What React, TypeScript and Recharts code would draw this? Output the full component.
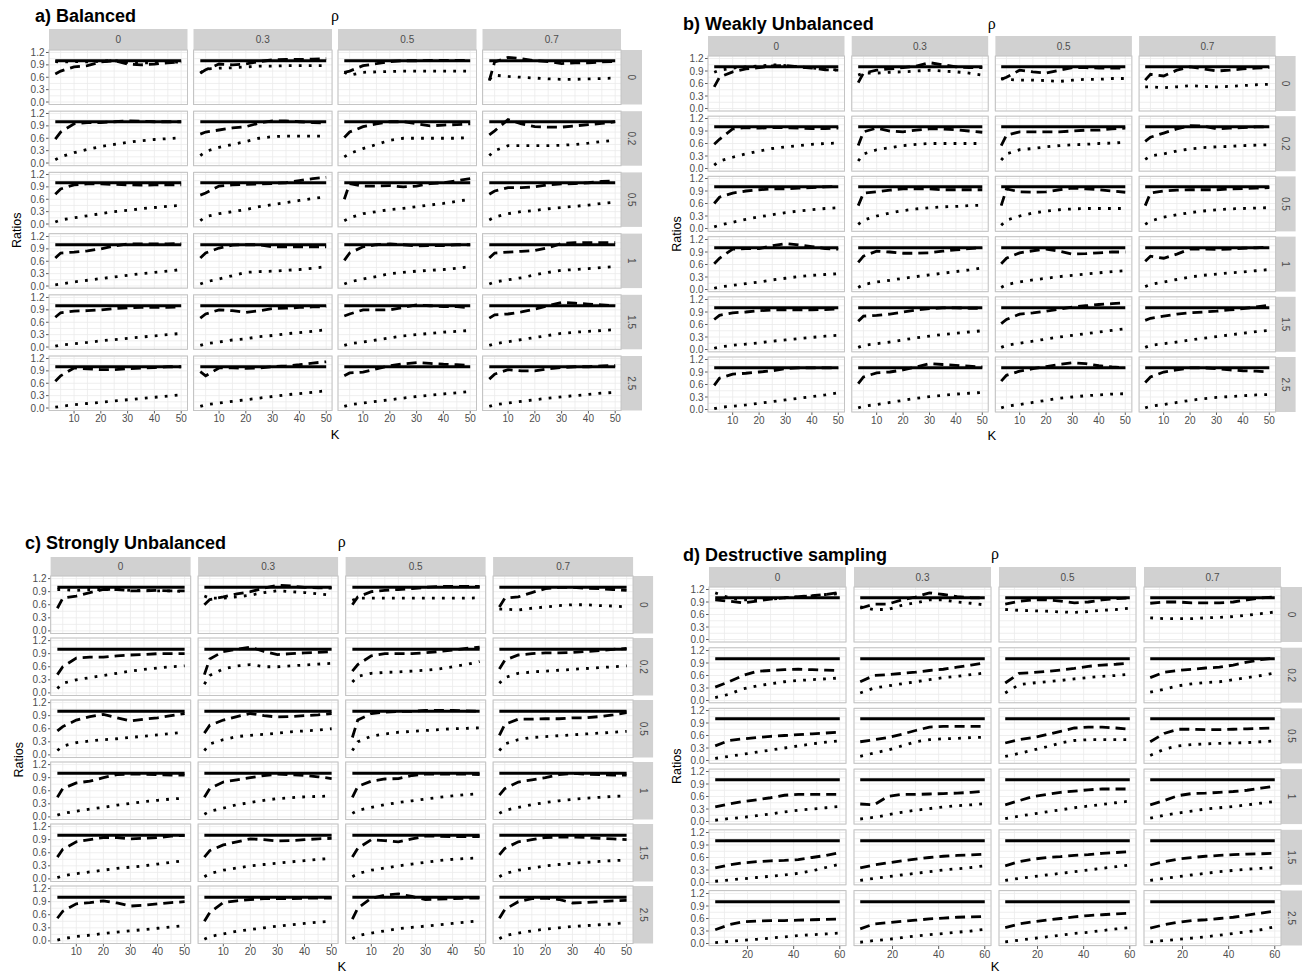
import React from 'react';
import { LineChart, Line, XAxis, YAxis, CartesianGrid } from 'recharts';

// ---- axes / facet labels ----
const kValues = [3, 5, 10, 15, 20, 25, 30, 35, 40, 45, 50];
const kDestructive = [6, 12, 18, 24, 30, 36, 42, 48, 54, 60];
const rhoLabels = ['0', '0.3', '0.5', '0.7'];
const sigmaLabels = ['0', '0.2', '0.5', '1', '1.5', '2.5'];
const yTicks = [0, 0.15, 0.3, 0.45, 0.6, 0.75, 0.9, 1.05, 1.2];
const yMajor = [0, 0.3, 0.6, 0.9, 1.2];
const kTicks = [5, 10, 15, 20, 25, 30, 35, 40, 45, 50];
const kMajor = [10, 20, 30, 40, 50];
const kTicksD = [10, 20, 30, 40, 50, 60];
const kMajorD = [20, 40, 60];
const REFERENCE_RATIO = 1;

// ---- series: [sigma row][rho column][K] ----
const balancedDashed = [
  [[0.68, 0.75, 0.85, 0.88, 0.97, 1.0, 0.92, 0.9, 0.92, 0.95, 0.97], [0.7, 0.78, 0.92, 0.9, 0.92, 0.98, 1.02, 1.03, 1.03, 1.04, 1.05], [0.72, 0.75, 0.88, 0.93, 0.98, 1.0, 1.0, 1.01, 1.01, 1.01, 1.01], [0.52, 0.97, 1.08, 1.05, 1.0, 0.98, 0.93, 0.95, 0.95, 0.97, 0.98]],
  [[0.58, 0.75, 0.95, 0.98, 0.98, 1.0, 1.02, 1.01, 1.0, 1.0, 1.0], [0.7, 0.75, 0.8, 0.85, 0.88, 0.97, 1.02, 1.02, 1.0, 0.98, 0.97], [0.62, 0.75, 0.88, 0.95, 1.0, 1.0, 0.95, 0.9, 0.92, 0.93, 0.95], [0.68, 0.78, 1.05, 0.95, 0.88, 0.87, 0.87, 0.9, 0.93, 0.96, 1.0]],
  [[0.72, 0.85, 0.95, 0.97, 0.97, 0.96, 0.95, 0.94, 0.95, 0.95, 0.95], [0.7, 0.75, 0.92, 0.95, 0.96, 0.97, 0.98, 1.0, 1.05, 1.1, 1.13], [0.6, 0.98, 0.92, 0.92, 0.93, 0.9, 0.92, 0.98, 1.0, 1.05, 1.1], [0.72, 0.8, 0.88, 0.88, 0.9, 0.95, 0.97, 0.98, 1.0, 1.03, 1.04]],
  [[0.68, 0.8, 0.82, 0.85, 0.9, 0.97, 1.02, 1.02, 1.02, 1.02, 1.03], [0.68, 0.8, 0.92, 0.99, 1.0, 1.0, 0.95, 0.95, 0.95, 0.95, 0.95], [0.62, 0.8, 0.95, 1.0, 1.02, 1.0, 0.97, 0.98, 0.98, 1.0, 1.0], [0.68, 0.8, 0.82, 0.84, 0.86, 0.93, 1.03, 1.05, 1.05, 1.05, 1.05]],
  [[0.72, 0.83, 0.87, 0.88, 0.9, 0.93, 0.95, 0.96, 0.96, 0.96, 0.97], [0.7, 0.8, 0.9, 0.88, 0.84, 0.88, 0.93, 0.94, 0.96, 0.97, 0.98], [0.75, 0.8, 0.9, 0.9, 0.9, 0.96, 1.02, 1.0, 0.98, 0.98, 0.95], [0.7, 0.78, 0.8, 0.85, 0.92, 1.0, 1.08, 1.06, 1.04, 1.02, 1.0]],
  [[0.65, 0.78, 0.97, 0.95, 0.93, 0.93, 0.95, 0.97, 0.98, 1.0, 1.0], [0.88, 0.78, 0.97, 0.97, 0.96, 0.97, 1.0, 1.02, 1.05, 1.09, 1.12], [0.78, 0.85, 0.87, 0.95, 1.02, 1.07, 1.1, 1.08, 1.06, 1.05, 1.03], [0.7, 0.82, 0.93, 0.9, 0.9, 0.95, 0.98, 1.0, 1.0, 1.02, 1.03]],
];
const balancedDotted = [
  [[0.98, 0.97, 0.98, 0.97, 0.99, 1.0, 0.96, 0.95, 0.95, 0.96, 0.97], [0.7, 0.8, 0.82, 0.83, 0.85, 0.87, 0.87, 0.88, 0.88, 0.88, 0.88], [0.72, 0.65, 0.72, 0.73, 0.74, 0.75, 0.75, 0.75, 0.75, 0.75, 0.75], [0.55, 0.65, 0.62, 0.6, 0.58, 0.56, 0.55, 0.55, 0.56, 0.57, 0.58]],
  [[0.08, 0.15, 0.25, 0.33, 0.4, 0.45, 0.5, 0.54, 0.57, 0.59, 0.61], [0.18, 0.28, 0.38, 0.45, 0.52, 0.6, 0.64, 0.65, 0.65, 0.65, 0.65], [0.15, 0.23, 0.35, 0.45, 0.55, 0.6, 0.6, 0.6, 0.6, 0.6, 0.62], [0.18, 0.3, 0.42, 0.42, 0.42, 0.42, 0.43, 0.45, 0.48, 0.52, 0.55]],
  [[0.05, 0.1, 0.15, 0.2, 0.25, 0.3, 0.33, 0.37, 0.4, 0.43, 0.45], [0.08, 0.18, 0.25, 0.3, 0.35, 0.42, 0.47, 0.52, 0.57, 0.62, 0.66], [0.08, 0.15, 0.25, 0.3, 0.35, 0.38, 0.42, 0.46, 0.5, 0.55, 0.6], [0.1, 0.17, 0.25, 0.3, 0.33, 0.37, 0.4, 0.43, 0.46, 0.5, 0.53]],
  [[0.03, 0.05, 0.1, 0.14, 0.18, 0.22, 0.26, 0.3, 0.33, 0.36, 0.4], [0.05, 0.1, 0.17, 0.25, 0.33, 0.35, 0.36, 0.38, 0.4, 0.43, 0.47], [0.05, 0.1, 0.17, 0.23, 0.3, 0.33, 0.36, 0.38, 0.4, 0.43, 0.47], [0.05, 0.1, 0.15, 0.2, 0.27, 0.33, 0.38, 0.4, 0.42, 0.45, 0.47]],
  [[0.02, 0.05, 0.08, 0.11, 0.15, 0.18, 0.21, 0.24, 0.27, 0.3, 0.33], [0.04, 0.08, 0.12, 0.17, 0.2, 0.25, 0.28, 0.32, 0.35, 0.38, 0.42], [0.04, 0.08, 0.12, 0.17, 0.22, 0.27, 0.3, 0.33, 0.36, 0.38, 0.4], [0.04, 0.08, 0.13, 0.18, 0.23, 0.28, 0.33, 0.36, 0.38, 0.4, 0.42]],
  [[0.02, 0.04, 0.08, 0.11, 0.14, 0.17, 0.2, 0.23, 0.26, 0.29, 0.32], [0.04, 0.08, 0.12, 0.16, 0.2, 0.24, 0.28, 0.32, 0.35, 0.38, 0.42], [0.04, 0.08, 0.12, 0.16, 0.2, 0.24, 0.28, 0.31, 0.34, 0.37, 0.4], [0.04, 0.08, 0.12, 0.16, 0.2, 0.24, 0.27, 0.3, 0.33, 0.36, 0.38]],
];

const weakDashed = [
  [[0.52, 0.75, 0.88, 0.95, 0.98, 1.02, 1.03, 1.0, 0.97, 0.93, 0.92], [0.62, 0.85, 0.92, 0.95, 0.98, 1.02, 1.1, 1.05, 1.0, 0.98, 0.98], [0.7, 0.75, 0.92, 0.88, 0.85, 0.92, 0.98, 0.98, 0.97, 0.97, 0.97], [0.68, 0.82, 0.78, 0.92, 1.0, 0.95, 0.9, 0.92, 0.95, 0.97, 0.98]],
  [[0.58, 0.7, 0.95, 0.98, 0.97, 0.98, 0.98, 0.97, 0.96, 0.96, 0.97], [0.55, 0.88, 0.97, 0.9, 0.88, 0.92, 0.95, 0.95, 0.93, 0.9, 0.87], [0.55, 0.8, 0.88, 0.88, 0.88, 0.88, 0.9, 0.92, 0.92, 0.95, 0.97], [0.65, 0.75, 0.85, 0.95, 1.03, 1.02, 0.95, 0.97, 0.98, 1.0, 1.0]],
  [[0.6, 0.75, 0.85, 0.9, 0.93, 0.95, 0.95, 0.97, 0.98, 1.0, 1.01], [0.55, 0.85, 0.88, 0.92, 0.95, 0.95, 0.95, 0.93, 0.93, 0.93, 0.93], [0.55, 0.95, 0.88, 0.87, 0.88, 0.93, 0.97, 0.95, 0.93, 0.9, 0.87], [0.55, 0.85, 0.9, 0.92, 0.93, 0.93, 0.93, 0.95, 0.96, 0.97, 0.98]],
  [[0.62, 0.75, 0.97, 0.98, 0.98, 1.05, 1.1, 1.07, 1.03, 0.98, 0.97], [0.65, 0.8, 0.92, 0.9, 0.87, 0.87, 0.88, 0.92, 0.95, 0.98, 1.0], [0.62, 0.75, 0.88, 0.93, 0.97, 0.92, 0.85, 0.86, 0.88, 0.9, 0.9], [0.68, 0.8, 0.75, 0.85, 0.97, 0.97, 0.96, 0.97, 0.99, 1.0, 1.02]],
  [[0.72, 0.82, 0.88, 0.9, 0.93, 0.95, 0.95, 0.95, 0.95, 0.96, 0.97], [0.68, 0.8, 0.82, 0.85, 0.9, 0.95, 0.98, 1.0, 1.0, 0.99, 0.99], [0.62, 0.72, 0.85, 0.88, 0.92, 0.97, 1.02, 1.05, 1.08, 1.1, 1.12], [0.7, 0.75, 0.8, 0.85, 0.88, 0.9, 0.92, 0.95, 0.98, 1.02, 1.06]],
  [[0.58, 0.75, 0.85, 0.87, 0.9, 0.93, 0.98, 1.0, 1.0, 1.0, 1.0], [0.62, 0.78, 0.88, 0.9, 0.95, 1.02, 1.1, 1.08, 1.06, 1.04, 1.02], [0.68, 0.82, 0.92, 0.98, 1.03, 1.08, 1.12, 1.1, 1.05, 1.02, 1.0], [0.65, 0.78, 0.9, 0.95, 1.0, 1.0, 0.98, 0.95, 0.93, 0.92, 0.9]],
];
const weakDotted = [
  [[0.87, 0.92, 0.97, 1.0, 1.02, 1.05, 1.03, 1.0, 0.97, 0.95, 0.92], [0.8, 0.85, 0.85, 0.87, 0.88, 0.9, 0.92, 0.9, 0.88, 0.85, 0.8], [0.72, 0.7, 0.68, 0.68, 0.67, 0.65, 0.68, 0.7, 0.7, 0.72, 0.72], [0.52, 0.52, 0.5, 0.52, 0.55, 0.53, 0.52, 0.53, 0.55, 0.57, 0.58]],
  [[0.08, 0.18, 0.27, 0.35, 0.42, 0.48, 0.52, 0.55, 0.58, 0.6, 0.61], [0.18, 0.35, 0.45, 0.5, 0.55, 0.58, 0.6, 0.6, 0.6, 0.6, 0.6], [0.2, 0.35, 0.45, 0.48, 0.52, 0.55, 0.57, 0.58, 0.6, 0.61, 0.63], [0.22, 0.3, 0.35, 0.42, 0.47, 0.5, 0.52, 0.53, 0.55, 0.56, 0.57]],
  [[0.04, 0.08, 0.15, 0.22, 0.28, 0.33, 0.38, 0.42, 0.45, 0.48, 0.5], [0.1, 0.2, 0.3, 0.37, 0.43, 0.47, 0.5, 0.52, 0.53, 0.55, 0.56], [0.08, 0.2, 0.3, 0.37, 0.42, 0.45, 0.47, 0.48, 0.48, 0.48, 0.48], [0.1, 0.18, 0.27, 0.33, 0.38, 0.42, 0.45, 0.47, 0.48, 0.49, 0.5]],
  [[0.03, 0.06, 0.1, 0.14, 0.18, 0.23, 0.27, 0.31, 0.34, 0.36, 0.38], [0.05, 0.12, 0.18, 0.22, 0.27, 0.31, 0.35, 0.39, 0.43, 0.47, 0.52], [0.05, 0.12, 0.18, 0.23, 0.27, 0.31, 0.34, 0.37, 0.4, 0.43, 0.45], [0.07, 0.12, 0.18, 0.24, 0.3, 0.34, 0.37, 0.4, 0.42, 0.45, 0.48]],
  [[0.03, 0.06, 0.1, 0.13, 0.16, 0.2, 0.23, 0.26, 0.29, 0.32, 0.34], [0.05, 0.1, 0.14, 0.18, 0.23, 0.28, 0.32, 0.36, 0.39, 0.42, 0.45], [0.05, 0.1, 0.15, 0.2, 0.25, 0.3, 0.34, 0.38, 0.42, 0.46, 0.5], [0.05, 0.1, 0.14, 0.18, 0.23, 0.27, 0.31, 0.35, 0.39, 0.43, 0.46]],
  [[0.02, 0.05, 0.08, 0.11, 0.15, 0.19, 0.23, 0.27, 0.31, 0.35, 0.4], [0.04, 0.08, 0.12, 0.17, 0.22, 0.27, 0.31, 0.34, 0.37, 0.39, 0.41], [0.04, 0.08, 0.12, 0.17, 0.22, 0.27, 0.3, 0.33, 0.35, 0.37, 0.38], [0.04, 0.08, 0.12, 0.17, 0.22, 0.26, 0.29, 0.31, 0.33, 0.35, 0.36]],
];

const strongDashed = [
  [[0.52, 0.75, 0.8, 0.88, 0.95, 0.95, 0.92, 0.92, 0.93, 0.92, 0.92], [0.6, 0.72, 0.78, 0.85, 0.9, 0.98, 1.05, 1.03, 1.0, 0.99, 0.98], [0.6, 0.78, 0.9, 0.93, 0.95, 0.97, 1.0, 1.02, 1.02, 1.02, 1.02], [0.55, 0.75, 0.78, 0.88, 0.97, 1.0, 1.0, 0.98, 0.97, 0.95, 0.93]],
  [[0.42, 0.6, 0.8, 0.82, 0.82, 0.85, 0.87, 0.88, 0.9, 0.9, 0.9], [0.42, 0.78, 0.95, 1.0, 1.05, 0.95, 0.88, 0.9, 0.92, 0.93, 0.95], [0.5, 0.65, 0.85, 0.9, 0.9, 0.9, 0.92, 0.95, 0.98, 1.02, 1.05], [0.55, 0.75, 0.87, 0.9, 0.92, 0.92, 0.93, 0.95, 0.97, 1.0, 1.02]],
  [[0.55, 0.65, 0.8, 0.88, 0.93, 0.85, 0.78, 0.82, 0.85, 0.9, 0.95], [0.5, 0.68, 0.8, 0.88, 0.95, 0.9, 0.87, 0.88, 0.9, 0.92, 0.95], [0.4, 0.8, 0.95, 0.98, 1.0, 1.0, 1.02, 1.02, 1.02, 1.01, 1.0], [0.45, 0.7, 0.82, 0.82, 0.83, 0.83, 0.85, 0.85, 0.88, 0.92, 0.97]],
  [[0.45, 0.65, 0.78, 0.82, 0.9, 0.97, 0.98, 0.98, 0.97, 0.96, 0.96], [0.45, 0.65, 0.8, 0.85, 0.9, 0.95, 0.98, 0.97, 0.95, 0.92, 0.88], [0.45, 0.7, 0.82, 0.87, 0.88, 0.95, 0.98, 0.98, 0.98, 0.98, 0.97], [0.5, 0.65, 0.8, 0.85, 0.9, 0.97, 1.0, 0.98, 0.97, 0.96, 0.96]],
  [[0.5, 0.68, 0.85, 0.9, 0.95, 0.95, 0.92, 0.93, 0.95, 0.98, 1.0], [0.5, 0.65, 0.78, 0.85, 0.92, 0.9, 0.87, 0.88, 0.9, 0.92, 0.93], [0.5, 0.7, 0.9, 0.88, 0.85, 0.92, 0.98, 0.98, 0.97, 0.97, 0.97], [0.55, 0.7, 0.85, 0.9, 0.95, 0.96, 0.96, 0.95, 0.93, 0.92, 0.9]],
  [[0.52, 0.68, 0.85, 0.88, 0.92, 0.87, 0.8, 0.82, 0.85, 0.88, 0.9], [0.45, 0.65, 0.88, 0.92, 0.95, 0.97, 0.97, 0.97, 0.98, 0.98, 0.98], [0.5, 0.75, 0.98, 1.05, 1.08, 1.02, 0.95, 0.96, 0.97, 0.98, 0.98], [0.52, 0.72, 0.9, 0.97, 0.98, 0.95, 0.87, 0.88, 0.9, 0.92, 0.93]],
];
const strongDotted = [
  [[0.95, 0.95, 0.93, 0.95, 0.95, 0.96, 0.93, 0.93, 0.92, 0.92, 0.9], [0.8, 0.75, 0.75, 0.78, 0.82, 0.88, 0.92, 0.9, 0.88, 0.85, 0.82], [0.7, 0.75, 0.75, 0.75, 0.75, 0.75, 0.75, 0.75, 0.75, 0.75, 0.76], [0.5, 0.5, 0.48, 0.52, 0.55, 0.58, 0.6, 0.6, 0.58, 0.57, 0.55]],
  [[0.1, 0.22, 0.3, 0.35, 0.4, 0.45, 0.5, 0.54, 0.57, 0.6, 0.62], [0.2, 0.4, 0.55, 0.62, 0.65, 0.6, 0.6, 0.62, 0.64, 0.66, 0.68], [0.25, 0.38, 0.45, 0.47, 0.48, 0.5, 0.52, 0.55, 0.6, 0.65, 0.72], [0.22, 0.35, 0.45, 0.48, 0.5, 0.52, 0.54, 0.56, 0.58, 0.6, 0.62]],
  [[0.1, 0.2, 0.28, 0.32, 0.35, 0.37, 0.4, 0.43, 0.46, 0.49, 0.52], [0.1, 0.25, 0.35, 0.42, 0.45, 0.47, 0.5, 0.53, 0.55, 0.57, 0.6], [0.1, 0.3, 0.43, 0.48, 0.52, 0.54, 0.56, 0.58, 0.6, 0.61, 0.62], [0.1, 0.25, 0.35, 0.4, 0.42, 0.44, 0.46, 0.48, 0.5, 0.52, 0.54]],
  [[0.04, 0.08, 0.13, 0.18, 0.22, 0.27, 0.31, 0.35, 0.38, 0.41, 0.43], [0.06, 0.13, 0.2, 0.28, 0.33, 0.38, 0.42, 0.44, 0.46, 0.47, 0.48], [0.08, 0.15, 0.22, 0.28, 0.33, 0.37, 0.41, 0.45, 0.48, 0.51, 0.53], [0.08, 0.15, 0.22, 0.28, 0.33, 0.37, 0.4, 0.43, 0.45, 0.47, 0.48]],
  [[0.03, 0.07, 0.12, 0.16, 0.2, 0.24, 0.27, 0.3, 0.34, 0.38, 0.42], [0.05, 0.12, 0.2, 0.25, 0.3, 0.33, 0.36, 0.39, 0.42, 0.45, 0.47], [0.05, 0.12, 0.2, 0.25, 0.3, 0.34, 0.38, 0.42, 0.45, 0.47, 0.48], [0.05, 0.12, 0.2, 0.25, 0.3, 0.33, 0.36, 0.38, 0.4, 0.42, 0.43]],
  [[0.02, 0.05, 0.1, 0.13, 0.17, 0.2, 0.23, 0.26, 0.29, 0.32, 0.35], [0.04, 0.1, 0.16, 0.22, 0.26, 0.3, 0.34, 0.37, 0.4, 0.43, 0.45], [0.05, 0.12, 0.18, 0.23, 0.28, 0.31, 0.34, 0.37, 0.4, 0.43, 0.46], [0.05, 0.12, 0.18, 0.23, 0.27, 0.3, 0.33, 0.35, 0.37, 0.39, 0.42]],
];

const destructiveDashed = [
  [[0.95, 0.92, 0.88, 0.92, 0.97, 1.0, 1.03, 1.05, 1.08, 1.13], [0.75, 0.85, 0.85, 0.95, 1.02, 1.12, 1.08, 1.03, 1.0, 1.0], [0.85, 0.92, 0.95, 0.95, 0.92, 0.88, 0.9, 0.95, 0.98, 1.0], [0.87, 0.9, 0.9, 0.88, 0.88, 0.88, 0.9, 0.95, 1.0, 1.02]],
  [[0.32, 0.45, 0.6, 0.7, 0.72, 0.74, 0.75, 0.74, 0.73, 0.72], [0.45, 0.6, 0.62, 0.65, 0.68, 0.72, 0.75, 0.8, 0.85, 0.9], [0.42, 0.65, 0.67, 0.7, 0.73, 0.77, 0.82, 0.85, 0.87, 0.9], [0.55, 0.68, 0.72, 0.75, 0.78, 0.8, 0.85, 0.92, 0.98, 1.02]],
  [[0.35, 0.48, 0.52, 0.55, 0.58, 0.6, 0.62, 0.64, 0.66, 0.68], [0.45, 0.5, 0.55, 0.63, 0.72, 0.8, 0.82, 0.82, 0.82, 0.82], [0.42, 0.5, 0.55, 0.62, 0.7, 0.78, 0.8, 0.8, 0.78, 0.75], [0.45, 0.65, 0.75, 0.75, 0.74, 0.74, 0.75, 0.76, 0.77, 0.78]],
  [[0.35, 0.42, 0.48, 0.52, 0.57, 0.63, 0.65, 0.65, 0.65, 0.65], [0.42, 0.4, 0.6, 0.65, 0.65, 0.66, 0.67, 0.68, 0.7, 0.73], [0.4, 0.5, 0.6, 0.65, 0.7, 0.73, 0.76, 0.78, 0.78, 0.78], [0.4, 0.5, 0.62, 0.67, 0.68, 0.7, 0.72, 0.75, 0.8, 0.85]],
  [[0.35, 0.42, 0.47, 0.5, 0.52, 0.53, 0.55, 0.6, 0.65, 0.72], [0.35, 0.42, 0.47, 0.52, 0.56, 0.6, 0.63, 0.65, 0.66, 0.68], [0.4, 0.5, 0.56, 0.6, 0.62, 0.65, 0.67, 0.7, 0.72, 0.74], [0.42, 0.5, 0.56, 0.6, 0.63, 0.65, 0.67, 0.68, 0.69, 0.7]],
  [[0.33, 0.45, 0.52, 0.54, 0.55, 0.55, 0.56, 0.57, 0.58, 0.59], [0.35, 0.47, 0.5, 0.53, 0.56, 0.59, 0.61, 0.63, 0.64, 0.65], [0.38, 0.47, 0.52, 0.56, 0.6, 0.64, 0.67, 0.69, 0.71, 0.73], [0.37, 0.45, 0.51, 0.55, 0.57, 0.6, 0.63, 0.68, 0.73, 0.78]],
];
const destructiveDotted = [
  [[1.12, 1.0, 0.95, 0.95, 0.97, 1.0, 1.02, 1.05, 1.08, 1.1], [0.78, 0.72, 0.72, 0.82, 0.88, 0.95, 0.95, 0.9, 0.87, 0.83], [0.72, 0.7, 0.69, 0.68, 0.66, 0.65, 0.67, 0.7, 0.72, 0.75], [0.52, 0.5, 0.5, 0.5, 0.52, 0.53, 0.55, 0.58, 0.62, 0.66]],
  [[0.07, 0.15, 0.28, 0.35, 0.4, 0.45, 0.48, 0.5, 0.52, 0.54], [0.18, 0.3, 0.35, 0.4, 0.45, 0.5, 0.55, 0.58, 0.62, 0.66], [0.18, 0.38, 0.42, 0.45, 0.48, 0.52, 0.55, 0.58, 0.6, 0.63], [0.2, 0.27, 0.35, 0.4, 0.43, 0.45, 0.5, 0.55, 0.6, 0.66]],
  [[0.05, 0.1, 0.15, 0.2, 0.25, 0.3, 0.35, 0.4, 0.44, 0.47], [0.1, 0.18, 0.25, 0.35, 0.45, 0.5, 0.52, 0.53, 0.55, 0.56], [0.1, 0.17, 0.25, 0.33, 0.42, 0.48, 0.5, 0.5, 0.5, 0.5], [0.12, 0.27, 0.35, 0.38, 0.4, 0.41, 0.42, 0.43, 0.45, 0.47]],
  [[0.03, 0.07, 0.1, 0.14, 0.18, 0.23, 0.27, 0.3, 0.33, 0.36], [0.06, 0.1, 0.16, 0.22, 0.27, 0.31, 0.35, 0.38, 0.4, 0.43], [0.07, 0.13, 0.18, 0.23, 0.28, 0.33, 0.37, 0.41, 0.45, 0.49], [0.08, 0.15, 0.2, 0.25, 0.3, 0.33, 0.36, 0.4, 0.44, 0.48]],
  [[0.03, 0.06, 0.09, 0.12, 0.15, 0.18, 0.22, 0.28, 0.36, 0.44], [0.05, 0.1, 0.14, 0.18, 0.22, 0.26, 0.3, 0.33, 0.36, 0.4], [0.05, 0.1, 0.14, 0.18, 0.22, 0.26, 0.3, 0.34, 0.38, 0.42], [0.05, 0.1, 0.14, 0.18, 0.22, 0.26, 0.29, 0.32, 0.34, 0.36]],
  [[0.02, 0.05, 0.08, 0.1, 0.13, 0.16, 0.19, 0.21, 0.23, 0.25], [0.03, 0.07, 0.1, 0.14, 0.18, 0.21, 0.24, 0.27, 0.3, 0.34], [0.04, 0.08, 0.12, 0.16, 0.2, 0.24, 0.27, 0.31, 0.35, 0.38], [0.04, 0.07, 0.1, 0.13, 0.16, 0.2, 0.24, 0.28, 0.33, 0.4]],
];

// ---- layout ----
const FONT = '"Liberation Sans", Arial, Helvetica, sans-serif';
const TICK_COLOR = '#4d4d4d';
const Y_AXIS_W = 30;
const X_AXIS_H = 22;
const Y_DOMAIN: [number, number] = [-0.06, 1.26];

interface PanelSpec {
  title: string;
  titleX: number;
  titleY: number;
  rhoY: number;
  kLabelY: number;
  colLeft: number;
  colStep: number;
  colW: number;
  rowTop: number;
  rowStep: number;
  rowH: number;
  stripH: number;
  stripRW: number;
  ratiosX: number;
  k: number[];
  xDomain: [number, number];
  xTicks: number[];
  xMajor: number[];
  dashed: number[][][];
  dotted: number[][][];
}

const panels: PanelSpec[] = [
  {
    title: 'a) Balanced', titleX: 35, titleY: 22, rhoY: 15, kLabelY: 434,
    colLeft: 49, colStep: 144.5, colW: 138.5, rowTop: 50, rowStep: 61.2, rowH: 54.5,
    stripH: 21, stripRW: 21, ratiosX: 17,
    k: kValues, xDomain: [0.65, 52.35], xTicks: kTicks, xMajor: kMajor,
    dashed: balancedDashed, dotted: balancedDotted,
  },
  {
    title: 'b) Weakly Unbalanced', titleX: 683, titleY: 30, rhoY: 23, kLabelY: 435,
    colLeft: 708, colStep: 143.7, colW: 136.5, rowTop: 56, rowStep: 60.2, rowH: 55,
    stripH: 20, stripRW: 20, ratiosX: 677,
    k: kValues, xDomain: [0.65, 52.35], xTicks: kTicks, xMajor: kMajor,
    dashed: weakDashed, dotted: weakDotted,
  },
  {
    title: 'c) Strongly Unbalanced', titleX: 25, titleY: 549, rhoY: 541, kLabelY: 966,
    colLeft: 50.6, colStep: 147.5, colW: 140, rowTop: 576, rowStep: 62, rowH: 57.5,
    stripH: 19, stripRW: 20, ratiosX: 19,
    k: kValues, xDomain: [0.65, 52.35], xTicks: kTicks, xMajor: kMajor,
    dashed: strongDashed, dotted: strongDotted,
  },
  {
    title: 'd) Destructive sampling', titleX: 683, titleY: 561, rhoY: 553, kLabelY: 966,
    colLeft: 709, colStep: 145, colW: 137, rowTop: 587, rowStep: 60.7, rowH: 55,
    stripH: 20, stripRW: 21, ratiosX: 677,
    k: kDestructive, xDomain: [3.3, 62.7], xTicks: kTicksD, xMajor: kMajorD,
    dashed: destructiveDashed, dotted: destructiveDotted,
  },
];

const isIn = (v: number, list: number[]) => list.some((m) => Math.abs(m - v) < 1e-6);

const YTick = (props: any) => {
  const { x, y, payload, show } = props;
  if (!show || !isIn(payload.value, yMajor)) return <g />;
  return (
    <g>
      <line x1={x - 3} x2={x} y1={y} y2={y} stroke='#333' strokeWidth={0.8} />
      <text x={x - 4.5} y={y} textAnchor='end' dominantBaseline='central' fontSize={10} fill={TICK_COLOR} fontFamily={FONT}>
        {payload.value.toFixed(1)}
      </text>
    </g>
  );
};

const XTick = (props: any) => {
  const { x, y, payload, show, major } = props;
  if (!show || !isIn(payload.value, major)) return <g />;
  return (
    <g>
      <line x1={x} x2={x} y1={y} y2={y + 3} stroke='#333' strokeWidth={0.8} />
      <text x={x} y={y + 4.5} textAnchor='middle' dominantBaseline='hanging' fontSize={10} fill={TICK_COLOR} fontFamily={FONT}>
        {payload.value}
      </text>
    </g>
  );
};

interface FacetProps {
  spec: PanelSpec;
  row: number;
  col: number;
}

const Facet: React.FC<FacetProps> = ({ spec, row, col }) => {
  const showY = col === 0;
  const showX = row === sigmaLabels.length - 1;
  const yw = showY ? Y_AXIS_W : 0;
  const xh = showX ? X_AXIS_H : 0;
  const left = spec.colLeft + col * spec.colStep;
  const top = spec.rowTop + row * spec.rowStep;
  const dashed = spec.dashed[row][col];
  const dotted = spec.dotted[row][col];
  const data = spec.k.map((k, i) => ({ k, ref: REFERENCE_RATIO, dashed: dashed[i], dotted: dotted[i] }));
  return (
    <div style={{ position: 'absolute', left: left - yw, top, width: spec.colW + yw, height: spec.rowH + xh }}>
      <LineChart width={spec.colW + yw} height={spec.rowH + xh} data={data} margin={{ top: 0, right: 0, bottom: 0, left: 0 }}>
        <CartesianGrid stroke='#ebebeb' strokeWidth={0.8} />
        <XAxis
          dataKey='k'
          type='number'
          domain={spec.xDomain}
          allowDataOverflow
          ticks={spec.xTicks}
          interval={0}
          height={xh}
          axisLine={false}
          tickLine={false}
          tickSize={0}
          tickMargin={0}
          tick={(p: any) => <XTick {...p} show={showX} major={spec.xMajor} />}
        />
        <YAxis
          type='number'
          domain={Y_DOMAIN}
          allowDataOverflow
          ticks={yTicks}
          interval={0}
          width={yw}
          axisLine={false}
          tickLine={false}
          tickSize={0}
          tickMargin={0}
          tick={(p: any) => <YTick {...p} show={showY} />}
        />
        <Line type='linear' dataKey='ref' stroke='#000' strokeWidth={3} dot={false} activeDot={false} isAnimationActive={false} />
        <Line type='linear' dataKey='dashed' stroke='#000' strokeWidth={2.8} strokeDasharray='10 6' dot={false} activeDot={false} isAnimationActive={false} />
        <Line type='linear' dataKey='dotted' stroke='#000' strokeWidth={2.8} strokeDasharray='2.8 7.2' dot={false} activeDot={false} isAnimationActive={false} />
      </LineChart>
    </div>
  );
};

const PanelDecor: React.FC<{ spec: PanelSpec }> = ({ spec }) => {
  const nCols = rhoLabels.length;
  const nRows = sigmaLabels.length;
  const rightEdge = spec.colLeft + (nCols - 1) * spec.colStep + spec.colW;
  const bottomEdge = spec.rowTop + (nRows - 1) * spec.rowStep + spec.rowH;
  const centerX = (spec.colLeft + rightEdge) / 2;
  const centerY = (spec.rowTop + bottomEdge) / 2;
  return (
    <g fontFamily={FONT}>
      <text x={spec.titleX} y={spec.titleY} fontSize={18} fontWeight='bold' fill='#000'>
        {spec.title}
      </text>
      <text x={centerX} y={spec.rhoY} fontSize={16} fill='#000' textAnchor='middle' dominantBaseline='central' fontFamily='"Liberation Serif", "DejaVu Serif", serif'>
        ρ
      </text>
      {rhoLabels.map((r, c) => {
        const x = spec.colLeft + c * spec.colStep;
        return (
          <g key={'s' + c}>
            <rect x={x} y={spec.rowTop - spec.stripH} width={spec.colW} height={spec.stripH} fill='#d1d1d1' />
            <text x={x + spec.colW / 2} y={spec.rowTop - spec.stripH / 2} fontSize={10} fill='#4d4d4d' textAnchor='middle' dominantBaseline='central'>
              {r}
            </text>
          </g>
        );
      })}
      {sigmaLabels.map((s, r) => {
        const y = spec.rowTop + r * spec.rowStep;
        const cx = rightEdge + spec.stripRW / 2;
        const cy = y + spec.rowH / 2;
        return (
          <g key={'r' + r}>
            <rect x={rightEdge} y={y} width={spec.stripRW} height={spec.rowH} fill='#d1d1d1' />
            <text x={cx} y={cy} fontSize={10} fill='#4d4d4d' textAnchor='middle' dominantBaseline='central' transform={`rotate(90 ${cx} ${cy})`}>
              {s}
            </text>
            {rhoLabels.map((_, c) => (
              <rect
                key={'b' + c}
                x={spec.colLeft + c * spec.colStep}
                y={y}
                width={spec.colW}
                height={spec.rowH}
                fill='none'
                stroke='#c4c4c4'
                strokeWidth={1}
              />
            ))}
          </g>
        );
      })}
      <text x={centerX} y={spec.kLabelY} fontSize={13} fill='#000' textAnchor='middle' dominantBaseline='central'>
        K
      </text>
      <text
        x={spec.ratiosX}
        y={centerY}
        fontSize={12.5}
        fill='#000'
        textAnchor='middle'
        dominantBaseline='central'
        transform={`rotate(-90 ${spec.ratiosX} ${centerY})`}
      >
        Ratios
      </text>
    </g>
  );
};

export default function App() {
  return (
    <div style={{ position: 'absolute', left: 0, top: 0, width: 1306, height: 974, background: '#fff', overflow: 'hidden' }}>
      <style>{'.recharts-surface { overflow: visible; }'}</style>
      {panels.map((spec, p) =>
        sigmaLabels.map((_, r) =>
          rhoLabels.map((__, c) => <Facet key={`${p}-${r}-${c}`} spec={spec} row={r} col={c} />)
        )
      )}
      <svg width={1306} height={974} style={{ position: 'absolute', left: 0, top: 0, pointerEvents: 'none' }}>
        {panels.map((spec, p) => (
          <PanelDecor key={p} spec={spec} />
        ))}
      </svg>
    </div>
  );
}
